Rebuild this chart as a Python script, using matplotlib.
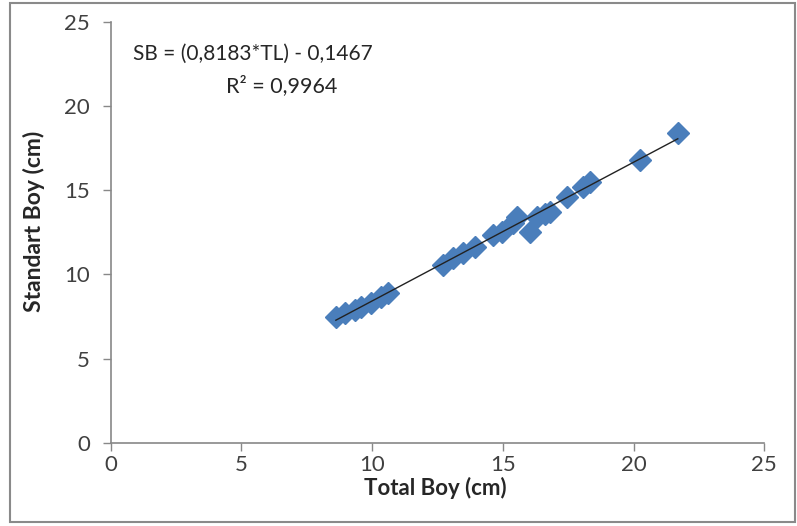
import numpy as np
import matplotlib.pyplot as plt
from matplotlib.patches import Rectangle

# Total length (TL) and standard length (SB), cm
total_boy = [8.61, 8.96, 9.34, 9.57, 9.95, 10.33, 10.60,
             12.70, 13.08, 13.46, 13.92, 14.61, 14.96, 15.38, 15.53,
             16.03, 16.30, 16.60, 16.79, 17.45, 18.06, 18.32, 20.24, 21.69]
standart_boy = [7.48, 7.72, 7.89, 8.07, 8.31, 8.66, 8.90,
                10.56, 10.98, 11.28, 11.63, 12.34, 12.52, 13.06, 13.41,
                12.52, 13.41, 13.59, 13.71, 14.60, 15.19, 15.49, 16.80, 18.40]

eq_text = "SB = (0,8183*TL) - 0,1467"
r2_text = "R² = 0,9964"

plt.rcParams["font.family"] = ["Lato", "DejaVu Sans"]

fig = plt.figure(figsize=(7.97, 5.26), dpi=100)
ax = fig.add_axes([0.139, 0.158, 0.820, 0.801])

blue = "#4a7ebb"
ax.plot(total_boy, standart_boy, linestyle="none", marker="D",
        markersize=11.5, color=blue, markeredgecolor=blue, zorder=2)

# linear trendline over the data range
coef = np.polyfit(total_boy, standart_boy, 1)
xs = np.array([min(total_boy), max(total_boy)])
ax.plot(xs, np.polyval(coef, xs), color="#222222", linewidth=1.0, zorder=3)

ax.set_xlim(0, 25)
ax.set_ylim(0, 25)
ax.set_xticks(range(0, 26, 5))
ax.set_yticks(range(0, 26, 5))

for side in ("top", "right"):
    ax.spines[side].set_visible(False)
for side in ("left", "bottom"):
    ax.spines[side].set_color("#888888")
    ax.spines[side].set_linewidth(1.2)

ax.tick_params(axis="both", direction="out", length=6, width=1.0,
               color="#888888", labelsize=16, labelcolor="#404040")
ax.tick_params(axis="y", pad=9)
ax.tick_params(axis="x", pad=3)

ax.set_xlabel("Total Boy (cm)", fontsize=16, fontweight="bold",
              color="#262626")
ax.xaxis.set_label_coords(0.497, -0.080)
ax.set_ylabel("Standart Boy (cm)", fontsize=16.5, fontweight="bold",
              color="#262626")
ax.yaxis.set_label_coords(-0.100, 0.525)

ax.text(5.44, 23.1, eq_text, ha="center", va="center", fontsize=15,
        color="#262626")
ax.text(6.55, 21.2, r2_text, ha="center", va="center", fontsize=15.5,
        color="#262626")

# outer chart frame
fig.patches.append(Rectangle((10 / 797, 4 / 526), 785 / 797, 519 / 526,
                             transform=fig.transFigure, fill=False,
                             edgecolor="#8a8a8a", linewidth=1.5))

fig.savefig("out.png", dpi=100)
